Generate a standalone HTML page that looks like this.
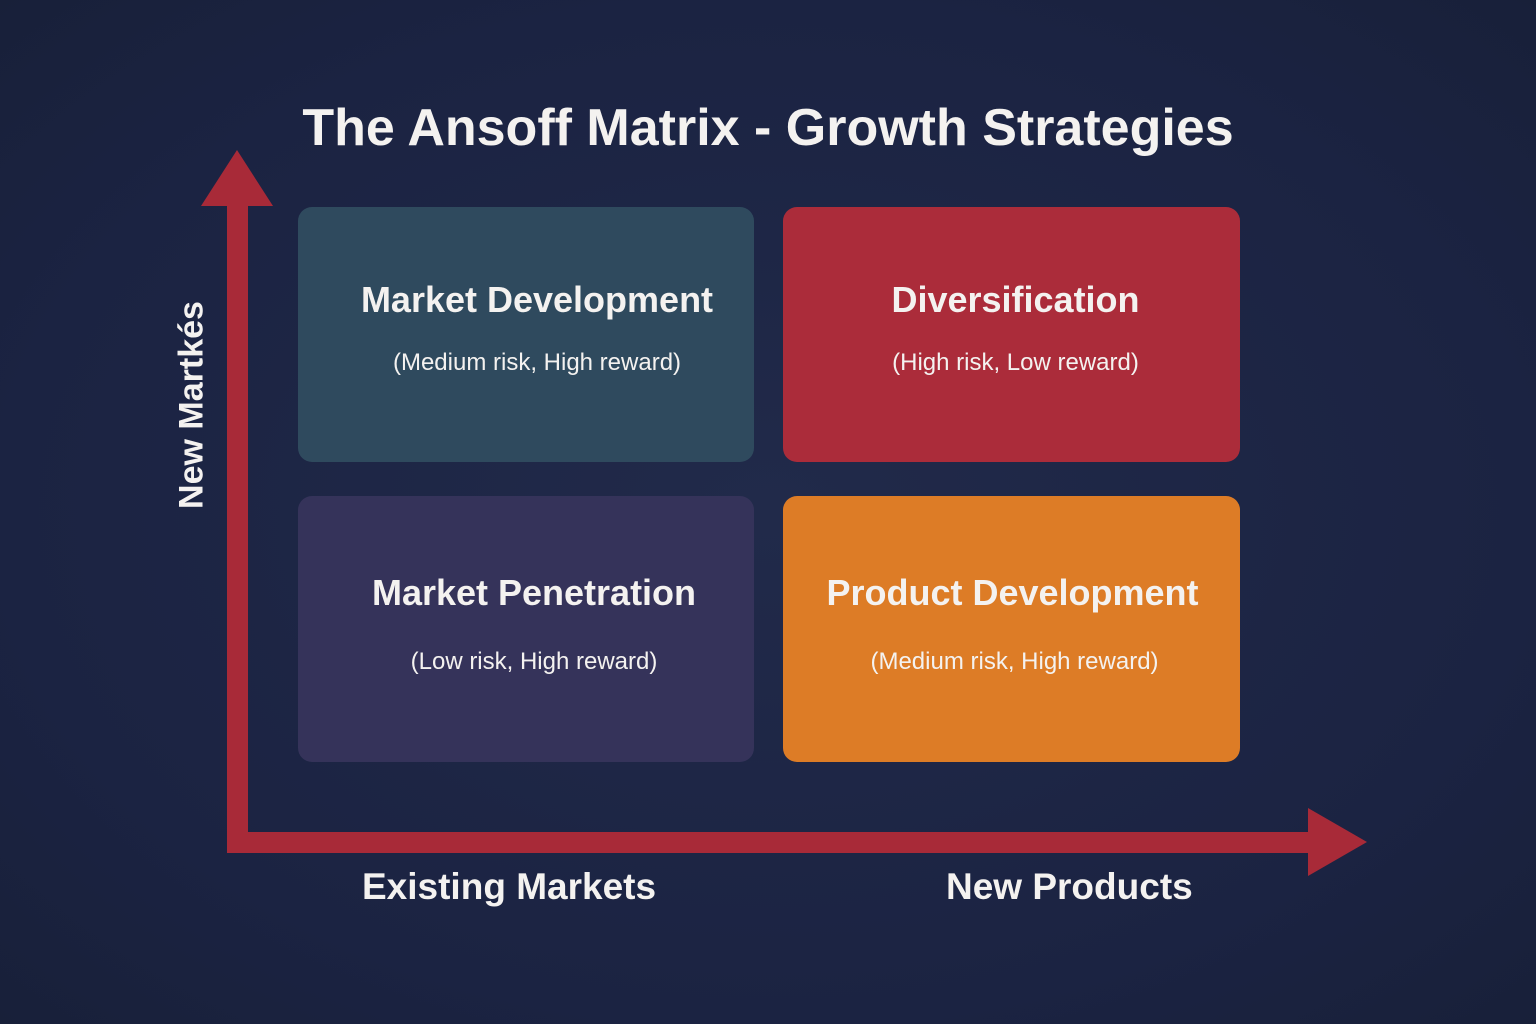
<!DOCTYPE html>
<html><head><style>
body{margin:0;width:1536px;height:1024px;background:radial-gradient(ellipse at center,#212a4a 0%,#1b2342 70%,#182039 100%);position:relative;overflow:hidden;font-family:"Liberation Sans","DejaVu Sans",sans-serif;color:#f4f2f0}
.box{position:absolute;border-radius:14px;text-align:center}
.t{position:absolute;left:0;right:0;font-weight:bold;font-size:36px}
.s{position:absolute;left:0;right:0;font-size:24px}
.lab{position:absolute;font-weight:bold;font-size:37px}
</style></head><body>
<div class="lab" style="left:0;width:1536px;top:98px;text-align:center;font-size:52px">The Ansoff Matrix - Growth Strategies</div>
<svg width="1536" height="1024" style="position:absolute;left:0;top:0">
<rect x="227" y="200" width="21" height="653" fill="#a82a38"/>
<polygon points="237,150 201,206 273,206" fill="#a82a38"/>
<rect x="227" y="832" width="1085" height="21" fill="#a82a38"/>
<polygon points="1367,842 1308,808 1308,876" fill="#a82a38"/>
</svg>
<div class="box" style="left:298px;top:207px;width:456px;height:255px;background:#2f4a5e">
<div class="t" style="top:72px;left:22px">Market Development</div><div class="s" style="top:142px;left:22px">(Medium risk, High reward)</div></div>
<div class="box" style="left:783px;top:207px;width:457px;height:255px;background:#ab2c3a">
<div class="t" style="top:72px;left:8px">Diversification</div><div class="s" style="top:142px;left:8px">(High risk, Low reward)</div></div>
<div class="box" style="left:298px;top:496px;width:456px;height:266px;background:#35335a">
<div class="t" style="top:76px;left:16px">Market Penetration</div><div class="s" style="top:152px;left:16px">(Low risk, High reward)</div></div>
<div class="box" style="left:783px;top:496px;width:457px;height:266px;background:#dd7c26">
<div class="t" style="top:76px;left:2px">Product Development</div><div class="s" style="top:152px;left:6px">(Medium risk, High reward)</div></div>
<div class="lab" style="left:362px;top:866px">Existing Markets</div>
<div class="lab" style="left:946px;top:866px">New Products</div>
<div class="lab" style="left:192px;top:405px;transform:translate(-50%,-50%) rotate(-90deg);white-space:nowrap;font-size:34px">New Martkés</div>
</body></html>
